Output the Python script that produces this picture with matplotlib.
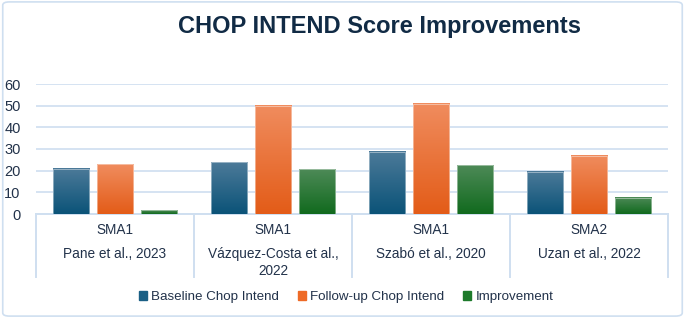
import numpy as np
import matplotlib
matplotlib.use('Agg')
import matplotlib.pyplot as plt
from matplotlib.patches import FancyBboxPatch, Rectangle
from matplotlib.colors import LinearSegmentedColormap
from matplotlib.lines import Line2D
import matplotlib.transforms as mtransforms

plt.rcParams['font.family'] = ['Liberation Sans', 'DejaVu Sans']

# data
types = ['SMA1', 'SMA1', 'SMA1', 'SMA2']
studies = ['Pane et al., 2023', 'Vázquez-Costa et al.,\n2022', 'Szabó et al., 2020', 'Uzan et al., 2022']
baseline = [21, 24, 28.7, 19.5]
followup = [23, 50, 51, 27]
improvement = [1.8, 20.7, 22.5, 7.5]
series_names = ['Baseline Chop Intend', 'Follow-up Chop Intend', 'Improvement']

# gradient colours (top, bottom) and legend colour per series
grads = [('#4c7a99', '#0b5378'), ('#f08c5e', '#e35c18'), ('#4d8a57', '#116a1e')]
solid = ['#1a5f85', '#ee6a26', '#1d7a2b']
txt_col = '#22324a'

fig = plt.figure(figsize=(6.85, 3.18), dpi=100)
ax = fig.add_axes([36/685, 1 - 214/318, (668 - 36)/685, (214 - 84)/318])

x = np.arange(len(studies))
w = 0.228
off = 0.278
for k, vals in enumerate([baseline, followup, improvement]):
    cmap = LinearSegmentedColormap.from_list('g%d' % k, [grads[k][1], grads[k][0]])
    for i, v in enumerate(vals):
        x0 = x[i] + (k - 1) * off - w / 2
        grad = np.linspace(0, 1, 100).reshape(-1, 1)
        ax.imshow(grad, cmap=cmap, origin='lower', aspect='auto',
                  extent=(x0, x0 + w, 0, v), zorder=3)
        ax.add_patch(Rectangle((x0, 0), w, v, fill=False, edgecolor='#ffffff',
                               linewidth=0.6, alpha=0.5, zorder=4))

ax.set_xlim(-0.5, len(studies) - 0.5)
ax.set_ylim(0, 60)
ax.set_yticks(range(0, 61, 10))
ax.yaxis.grid(True, color='#d5e3f2', linewidth=1.4, zorder=0)
ax.set_axisbelow(True)
for s in ['top', 'right', 'left']:
    ax.spines[s].set_visible(False)
ax.spines['bottom'].set_color('#cfdff0')
ax.spines['bottom'].set_linewidth(1.4)
ax.set_xticks([])
ax.tick_params(axis='y', length=0, labelsize=10.5, labelcolor=txt_col, pad=11)

# two level category labels
trans = mtransforms.blended_transform_factory(ax.transData, fig.transFigure)
for i in range(len(studies)):
    ax.text(x[i], 1 - 230/318, types[i], transform=trans, ha='center', va='center',
            fontsize=9.8, color=txt_col, clip_on=False)
    ax.text(x[i], 1 - 247/318, studies[i], transform=trans, ha='center', va='top',
            fontsize=9.8, color=txt_col, linespacing=1.25, clip_on=False)
for b in np.arange(len(studies) + 1) - 0.5:
    fig.add_artist(Line2D([b, b], [1 - 214/318, 1 - 277/318], transform=trans,
                          color='#cfdff0', linewidth=1.4))

fig.text(380/685, 1 - 27/318, 'CHOP INTEND Score Improvements', ha='center', va='center',
         fontsize=17, fontweight='bold', color='#112b45')

handles = [Rectangle((0, 0), 1, 1, color=c) for c in solid]
fig.legend(handles, series_names, loc='center', bbox_to_anchor=(346/685, 1 - 297/318),
           ncol=3, frameon=False, fontsize=9.6, handlelength=0.6, handleheight=0.6,
           handletextpad=0.3, columnspacing=1.45, labelcolor=txt_col)

fig.add_artist(FancyBboxPatch((0.004, 0.006), 0.992, 0.988, boxstyle='round,pad=0,rounding_size=0.01',
                              transform=fig.transFigure, fill=False, edgecolor='#cfdff0', linewidth=1.2))

fig.savefig('out.png', dpi=100)
